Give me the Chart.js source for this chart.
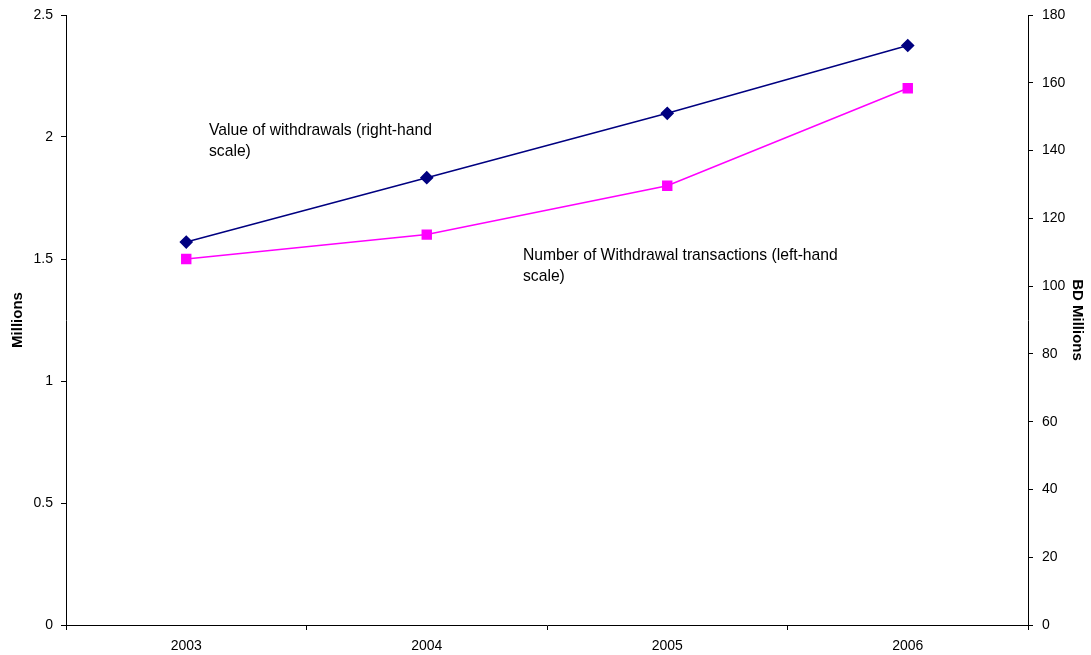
<!DOCTYPE html>
<html>
<head>
<meta charset="utf-8">
<script src="https://cdn.jsdelivr.net/npm/chart.js@4"></script>
<style>
  html, body { margin: 0; padding: 0; background: #fff; }
  #wrap { width: 1091px; height: 655px; }
</style>
</head>
<body>
<div id="wrap"><canvas id="myChart" width="1091" height="655"></canvas></div>
<script>
let years = ['2003', '2004', '2005', '2006'];
let countData = [1.5, 1.6, 1.8, 2.2];        // millions, left-hand scale
let valueData = [113, 132, 151, 171];        // BD millions, right-hand scale
let leftTicks = [0, 0.5, 1, 1.5, 2, 2.5];
let rightTicks = [0, 20, 40, 60, 80, 100, 120, 140, 160, 180];

Chart.defaults.font.family = '"Liberation Sans", Arial, sans-serif';
Chart.defaults.font.size = 14;
Chart.defaults.color = '#000';

// free text labels next to the lines
let notes = {
    id: 'notes',
    afterDraw(chart) {
        let c = chart.ctx;
        c.save();
        c.font = '15.7px "Liberation Sans", Arial, sans-serif';
        c.fillStyle = '#000';
        c.textBaseline = 'middle';
        c.fillText('Value of withdrawals (right-hand', 209, 131);
        c.fillText('scale)', 209, 152);
        c.fillText('Number of Withdrawal transactions (left-hand', 523, 256);
        c.fillText('scale)', 523, 277);
        c.restore();
    }
};

// fixed axis widths, no extra label overhang at the top
function fixY(w) {
    return function (scale) {
        scale.width = w;
        scale.paddingTop = 0;
        scale.paddingBottom = 0;
    };
}

let ctx = document.getElementById('myChart').getContext('2d');

let myChart = new Chart(ctx, {
    type: 'line',
    data: {
        labels: years,
        datasets: [{
            label: 'Value of withdrawals',
            data: valueData,
            yAxisID: 'y1',
            borderColor: '#000080',
            backgroundColor: '#000080',
            borderWidth: 1.5,
            pointStyle: 'rectRot',
            pointRadius: 5.8,
            pointHoverRadius: 5.8,
            tension: 0
        }, {
            label: 'Number of Withdrawal transactions',
            data: countData,
            yAxisID: 'y',
            borderColor: '#ff00ff',
            backgroundColor: '#ff00ff',
            borderWidth: 1.5,
            pointStyle: 'rect',
            pointRadius: 6.3,
            pointHoverRadius: 6.3,
            tension: 0
        }]
    },
    options: {
        responsive: false,
        animation: false,
        layout: {
            padding: { top: 15, left: 0, right: 0, bottom: 0 }
        },
        plugins: {
            legend: { display: false },
            tooltip: { enabled: false }
        },
        scales: {
            x: {
                offset: true,
                grid: {
                    offset: true,
                    drawOnChartArea: false,
                    color: '#000',
                    tickLength: 5
                },
                border: { color: '#000', width: 1 },
                ticks: { padding: 8 },
                afterFit(scale) {
                    scale.height = 30;
                    scale.paddingLeft = 0;
                    scale.paddingRight = 0;
                }
            },
            y: {
                position: 'left',
                min: 0,
                max: 2.5,
                afterBuildTicks(scale) {
                    scale.ticks = leftTicks.map(v => ({ value: v }));
                },
                grid: {
                    drawOnChartArea: false,
                    color: '#000',
                    tickLength: 5
                },
                border: { color: '#000', width: 1 },
                ticks: {
                    padding: 8,
                    callback: v => String(v)
                },
                title: {
                    display: true,
                    text: 'Millions',
                    font: { weight: 'bold', size: 15 },
                    padding: 9
                },
                afterFit: fixY(66)
            },
            y1: {
                position: 'right',
                min: 0,
                max: 180,
                afterBuildTicks(scale) {
                    scale.ticks = rightTicks.map(v => ({ value: v }));
                },
                grid: {
                    drawOnChartArea: false,
                    color: '#000',
                    tickLength: 5
                },
                border: { color: '#000', width: 1 },
                ticks: {
                    padding: 9,
                    callback: v => String(v)
                },
                title: {
                    display: true,
                    text: 'BD Millions',
                    font: { weight: 'bold', size: 15 },
                    padding: 5
                },
                afterFit: fixY(63)
            }
        }
    },
    plugins: [notes]
});
</script>
</body>
</html>
